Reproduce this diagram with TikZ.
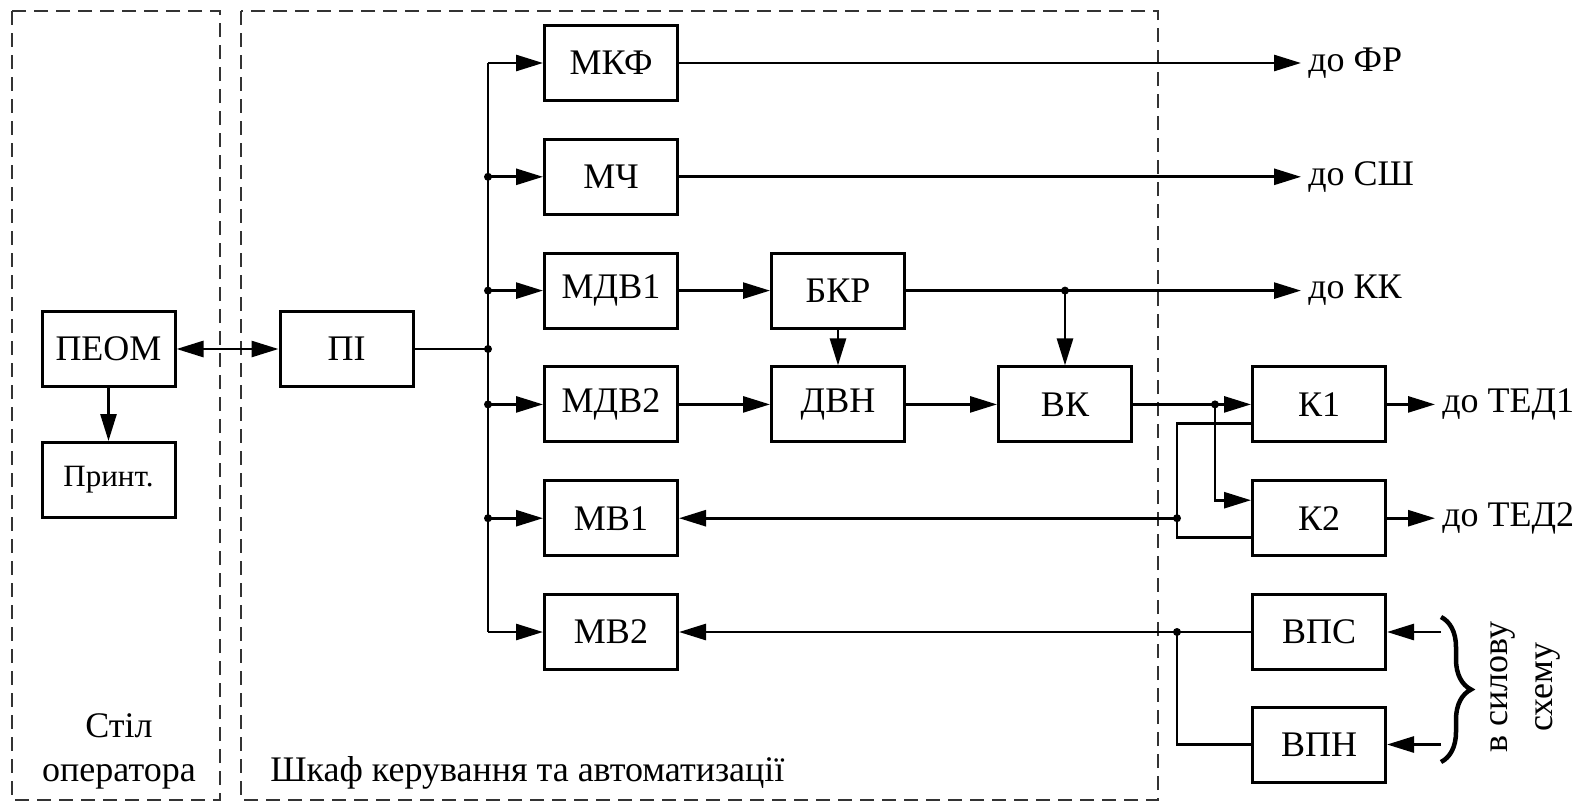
\documentclass[tikz,border=0pt]{standalone}
\usepackage{fontspec}
\setmainfont{Liberation Serif}
\usetikzlibrary{arrows.meta,positioning,decorations.pathreplacing}

\begin{document}
\begin{tikzpicture}[x=1pt,y=-1pt,>={Triangle[length=27pt,width=16pt]},node distance=113.8pt,line width=2.7pt,
    blk/.style={draw,rectangle,line width=3pt,minimum width=133pt,minimum height=75pt,inner sep=0pt,font=\fontsize{36}{42}\selectfont},
    lbl/.style={inner sep=6pt,anchor=west,font=\fontsize{36}{42}\selectfont},
    zone/.style={draw=black!80,line width=2.2pt,dash pattern=on 14pt off 8pt},
    dot/.style={circle,fill,inner sep=0pt,minimum size=8pt}]

            \useasboundingbox (0,0) rectangle (1591,804);

            % zones
            \draw[zone] (12,11) rectangle (220,800);
            \draw[zone] (241,11) rectangle (1158,800);
            \node[align=center,font=\fontsize{36}{44}\selectfont] (stil) at (119,751) {Стіл\\оператора};
            \node[lbl] (shkaf) at (263,773) {Шкаф керування та автоматизації};

            \node[blk] (peom) at (108.5,349) {ПЕОМ};
            \node[blk,font=\fontsize{31}{36}\selectfont] (print) [below of = peom, node distance=131pt] {Принт.};
            \node[blk] (pi) [right of = peom, node distance=238pt] {ПІ};

            \node[blk] (mkf) at (611,63) {МКФ};
            \node[blk] (mch) [below of = mkf] {МЧ};
            \node[blk] (mdv1) [below of = mch] {МДВ1};
            \node[blk] (mdv2) [below of = mdv1] {МДВ2};
            \node[blk] (mv1) [below of = mdv2] {МВ1};
            \node[blk] (mv2) [below of = mv1] {МВ2};
            \node[blk] (bkr) [right of = mdv1, node distance=227pt] {БКР};
            \node[blk] (dvn) [right of = mdv2, node distance=227pt] {ДВН};
            \node[blk] (vk) [right of = dvn, node distance=227pt] {ВК};
            \node[blk] (k1) [right of = vk, node distance=254pt] {К1};
            \node[blk] (k2) [below of = k1] {К2};
            \node[blk] (vps) [below of = k2] {ВПС};
            \node[blk] (vpn) [below of = vps, node distance=112.5pt] {ВПН};

            \node[lbl] (fr) [right=622pt of mkf, inner sep=6pt] {до ФР};
            \node[lbl] (ssh) [right=622pt of mch, inner sep=6pt] {до СШ};
            \node[lbl] (kk) [right=395pt of bkr, inner sep=6pt] {до КК};
            \node[lbl] (ted1) [right=48pt of k1, inner sep=6pt] {до ТЕД1};
            \node[lbl] (ted2) [right=48pt of k2, inner sep=6pt] {до ТЕД2};

            \coordinate (bus) at (488,0);
            \coordinate (xk) at (1215,0);
            \coordinate (xm) at (1177,0);
            \coordinate (xs) at (1441,0);

            % bus
            \draw (mkf.west -| bus) -- (mv2.west -| bus);
            \foreach \n in {mkf,mch,mdv1,mdv2,mv1,mv2}
                \draw[->] (\n.west -| bus) -- (\n.west);
            \foreach \n in {mch,mdv1,mdv2,mv1}
                \node[dot] (j\n) at (\n.west -| bus) {};
            \node[dot] (jpi) at (pi -| bus) {};
            \draw[line width=1.3pt] (pi) -- (jpi.center);

            \draw[<->] (peom) -- (pi);
            \draw[->] (peom) -- (print);

            \draw[->] (mkf) -- (fr);
            \draw[->] (mch) -- (ssh);
            \draw[->] (mdv1) -- (bkr);
            \draw[->] (mdv2) -- (dvn);
            \draw[->] (bkr) -- (dvn);
            \draw[->] (dvn) -- (vk);
            \draw[->] (bkr) -- (kk);
            \node[dot] (jkk) at (bkr.east -| vk) {};
            \draw[->] (jkk.center) -- (vk);

            \draw[->] (vk) -- (k1);
            \node[dot] (jk) at (vk.east -| xk) {};
            \draw[->] (jk.center) |- ([yshift=18pt]k2.west);
            \draw[->] (k1) -- (ted1);
            \draw[->] (k2) -- (ted2);

            \node[dot] (jmv1) at (mv1.east -| xm) {};
            \draw ([yshift=-19pt]k1.west) -| (jmv1.center) |- ([yshift=-19pt]k2.west);
            \draw[->] (jmv1.center) -- (mv1);

            \node[dot] (jmv2) at (mv2.east -| xm) {};
            \draw[->] (vps) -- (mv2);
            \draw (jmv2.center) |- (vpn.west);
            \draw[->] (vps.east -| xs) -- (vps.east);
            \draw[->] (vpn.east -| xs) -- (vpn.east);

            \draw[decorate,decoration={brace,amplitude=30pt},line width=4.5pt] (1441,617) -- (1441,762);
            \node[rotate=90,align=center,font=\fontsize{36}{45}\selectfont] (sil) at (1525,687) {в силову\\схему};

            ;
        \end{tikzpicture}
\end{document}
